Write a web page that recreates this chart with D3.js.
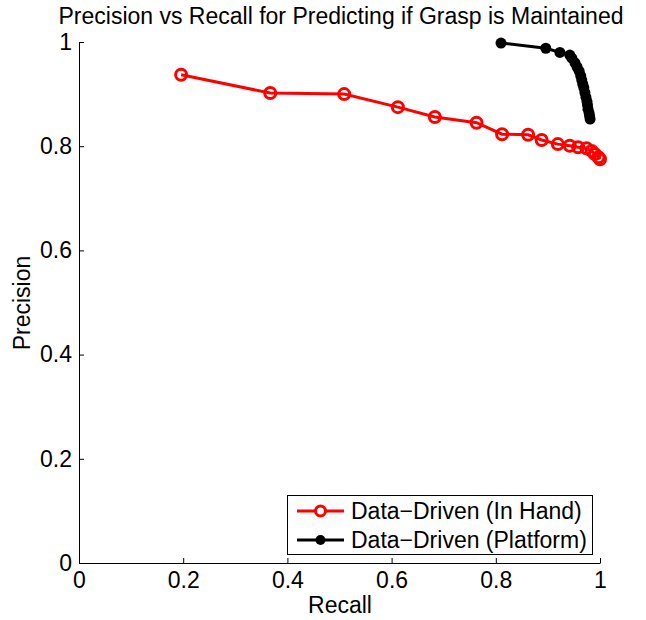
<!DOCTYPE html>
<html>
<head>
<meta charset="utf-8">
<script src="https://cdn.jsdelivr.net/npm/d3@7"></script>
<style>
	body { margin: 0; background: #fff; }
	text { font-family: 'Liberation Sans', Arial, sans-serif; fill: #000; }
</style>
</head>
<body>
<div id="chart"></div>
<script>

var ticks = [0, 0.2, 0.4, 0.6, 0.8, 1];

var handRecall = [0.196, 0.367, 0.509, 0.612, 0.683, 0.763, 0.812, 0.862, 0.888, 0.919, 0.942, 0.958, 0.974, 0.984, 0.990, 0.997, 1.0];
var handPrecision = [0.937, 0.902, 0.900, 0.875, 0.856, 0.845, 0.823, 0.822, 0.812, 0.804, 0.801, 0.798, 0.796, 0.791, 0.785, 0.779, 0.775];

var platRecall = [0.810, 0.896, 0.923, 0.942, 0.946, 0.952, 0.956, 0.960, 0.963, 0.965, 0.967, 0.969, 0.971, 0.973, 0.975, 0.976, 0.977, 0.979, 0.980, 0.981];
var platPrecision = [0.998, 0.988, 0.980, 0.975, 0.969, 0.960, 0.952, 0.944, 0.935, 0.927, 0.919, 0.912, 0.903, 0.894, 0.886, 0.879, 0.871, 0.864, 0.858, 0.852];

var width = 646, height = 620;
var mLeft = 79, mRight = 600, mTop = 42, mBottom = 563;
var fontSize = '23px';

var svg = d3.select('#chart').append('svg')
	.attr('width', width)
	.attr('height', height);

var x = d3.scaleLinear().domain([0, 1]).range([mLeft, mRight]);
var y = d3.scaleLinear().domain([0, 1]).range([mBottom, mTop]);

var fmt = function(d) { return d === 0 || d === 1 ? String(d) : d.toFixed(1); };

// axes, ticks pointing inward like matlab
var gx = svg.append('g').attr('transform', 'translate(0,' + mBottom + ')')
	.call(d3.axisBottom(x).tickValues(ticks).tickSizeInner(-5).tickSizeOuter(0).tickPadding(8).tickFormat(fmt));
var gy = svg.append('g').attr('transform', 'translate(' + mLeft + ',0)')
	.call(d3.axisLeft(y).tickValues(ticks).tickSizeInner(-5).tickSizeOuter(0).tickPadding(7).tickFormat(fmt));

[gx, gy].forEach(function(g) {
	g.selectAll('path, line').attr('stroke', '#000').attr('stroke-width', 1);
	g.selectAll('text').style('font-size', fontSize).style('font-family', "'Liberation Sans', Arial, sans-serif").attr('fill', '#000');
});
gx.selectAll('text').attr('dy', '0.72em');

var line = d3.line().x(function(d) { return x(d[0]); }).y(function(d) { return y(d[1]); });

var hand = d3.zip(handRecall, handPrecision);
var plat = d3.zip(platRecall, platPrecision);

svg.append('path').datum(hand).attr('d', line)
	.attr('fill', 'none').attr('stroke', '#f00').attr('stroke-width', 3);
svg.selectAll('.hand').data(hand).enter().append('circle')
	.attr('cx', function(d) { return x(d[0]); })
	.attr('cy', function(d) { return y(d[1]); })
	.attr('r', 5.5)
	.attr('fill', 'none').attr('stroke', '#f00').attr('stroke-width', 3);

svg.append('path').datum(plat).attr('d', line)
	.attr('fill', 'none').attr('stroke', '#000').attr('stroke-width', 3);
svg.selectAll('.plat').data(plat).enter().append('circle')
	.attr('cx', function(d) { return x(d[0]); })
	.attr('cy', function(d) { return y(d[1]); })
	.attr('r', 5.5)
	.attr('fill', '#000');

// labels
svg.append('text').attr('x', 341).attr('y', 24).attr('text-anchor', 'middle')
	.style('font-size', fontSize).text('Precision vs Recall for Predicting if Grasp is Maintained');
svg.append('text').attr('x', 340).attr('y', 613).attr('text-anchor', 'middle')
	.style('font-size', fontSize).text('Recall');
svg.append('text').attr('transform', 'translate(30,303) rotate(-90)').attr('text-anchor', 'middle')
	.style('font-size', fontSize).text('Precision');

// legend
var legend = svg.append('g');
legend.append('rect').attr('x', 287.5).attr('y', 495.5).attr('width', 305).attr('height', 59)
	.attr('fill', '#fff').attr('stroke', '#000').attr('stroke-width', 1);

var items = [
	{ name: 'Data\u2212Driven (In Hand)', color: '#f00', open: true },
	{ name: 'Data\u2212Driven (Platform)', color: '#000', open: false }
];

items.forEach(function(item, i) {
	var cy = 511 + i * 29;
	legend.append('line').attr('x1', 297).attr('x2', 344).attr('y1', cy).attr('y2', cy)
		.attr('stroke', item.color).attr('stroke-width', 3);
	legend.append('circle').attr('cx', 320.5).attr('cy', cy).attr('r', 5)
		.attr('fill', item.open ? '#fff' : item.color)
		.attr('stroke', item.open ? item.color : 'none').attr('stroke-width', 3);
	legend.append('text').attr('x', 351).attr('y', cy + 8).style('font-size', fontSize).text(item.name);
});

</script>
</body>
</html>
